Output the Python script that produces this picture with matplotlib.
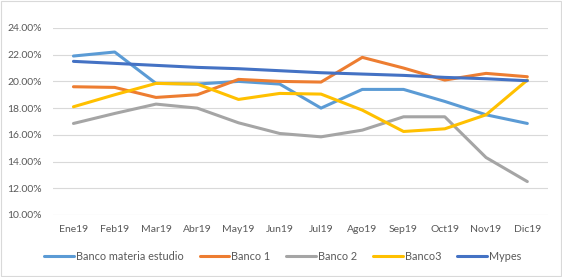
import matplotlib
matplotlib.use("Agg")
import matplotlib.pyplot as plt
from matplotlib.patches import Rectangle
from matplotlib.ticker import FuncFormatter

months = ["Ene19", "Feb19", "Mar19", "Abr19", "May19", "Jun19", "Jul19",
          "Ago19", "Sep19", "Oct19", "Nov19", "Dic19"]
banco_estudio = [21.9, 22.2, 19.85, 19.8, 20.0, 19.8, 18.0, 19.4, 19.4, 18.5, 17.5, 16.85]
banco1 = [19.6, 19.55, 18.8, 19.0, 20.15, 20.0, 19.95, 21.8, 21.0, 20.1, 20.6, 20.35]
banco2 = [16.85, 17.6, 18.3, 18.0, 16.9, 16.1, 15.85, 16.35, 17.35, 17.35, 14.3, 12.5]
banco3 = [18.1, 19.0, 19.85, 19.8, 18.65, 19.1, 19.05, 17.85, 16.25, 16.45, 17.5, 20.1]
mypes = [21.5, 21.35, 21.2, 21.05, 20.95, 20.8, 20.65, 20.55, 20.45, 20.3, 20.2, 20.05]

series = [
    ("Banco materia estudio", banco_estudio, "#5B9BD5"),
    ("Banco 1", banco1, "#ED7D31"),
    ("Banco 2", banco2, "#A5A5A5"),
    ("Banco3", banco3, "#FFC000"),
    ("Mypes", mypes, "#4472C4"),
]

plt.rcParams['font.family'] = ['Lato', 'DejaVu Sans']
txt = "#595959"

fig = plt.figure(figsize=(5.62, 2.77), dpi=100)
ax = fig.add_axes([0.094, 0.224, 0.881, 0.675])

x = list(range(len(months)))
for name, vals, col in series:
    ax.plot(x, vals, color=col, lw=2.2, label=name, solid_capstyle='round')

ax.set_xlim(-0.5, len(months) - 0.5)
ax.set_ylim(10, 24)
ax.set_yticks([10, 12, 14, 16, 18, 20, 22, 24])
ax.yaxis.set_major_formatter(FuncFormatter(lambda v, p: f"{v:.2f}%"))
ax.set_xticks(x)
ax.set_xticklabels(months)
ax.grid(axis='y', color="#D9D9D9", lw=0.8)
ax.set_axisbelow(True)
for s in ax.spines.values():
    s.set_visible(False)
ax.tick_params(length=0, labelsize=7.5, colors=txt, pad=7)
ax.tick_params(axis='y', pad=8)

leg = fig.legend(loc='center', bbox_to_anchor=(0.503, 0.075), ncol=5, frameon=False,
                 fontsize=7.8, handlelength=2.7, columnspacing=1.5, handletextpad=0.2)
for t in leg.get_texts():
    t.set_color(txt)

fig.patches.append(Rectangle((0.002, 0.004), 0.996, 0.992, transform=fig.transFigure,
                             fill=False, edgecolor="#D9D9D9", lw=0.8))

fig.savefig("out.png", dpi=100, facecolor="white")
